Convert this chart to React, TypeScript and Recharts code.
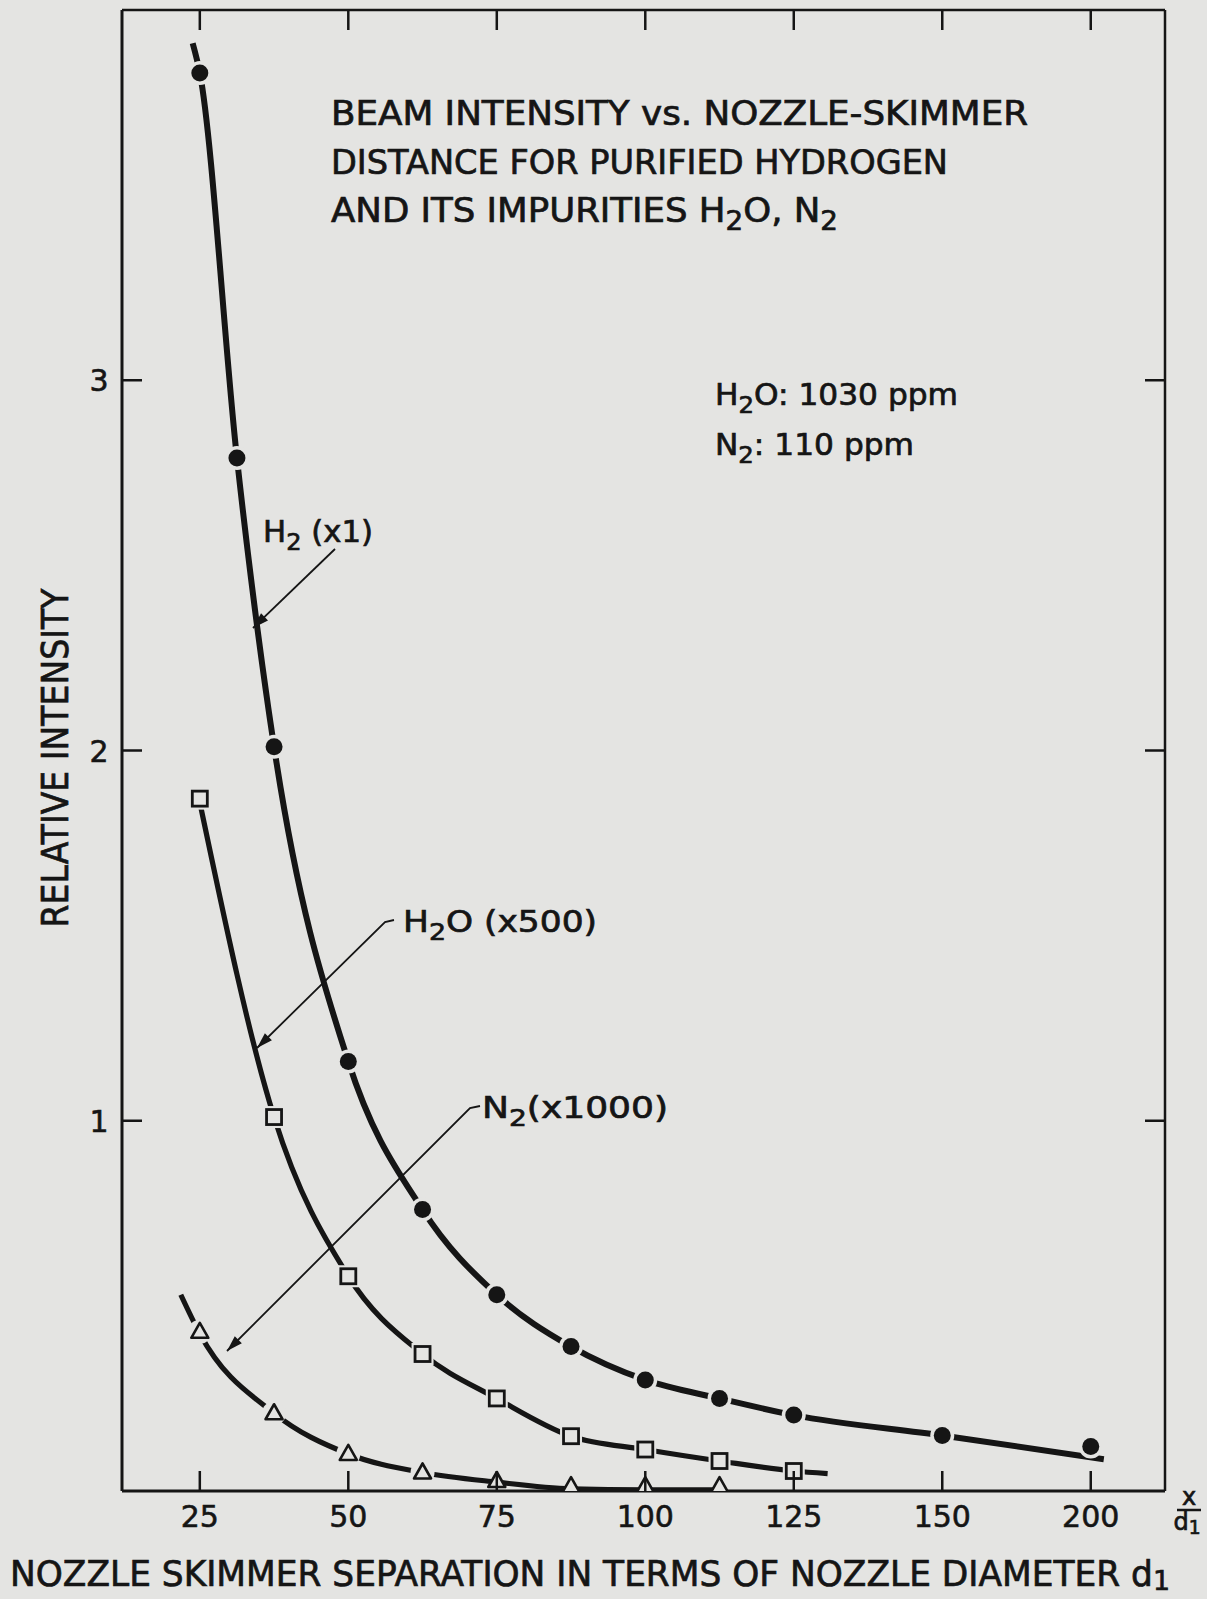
import React from "react";
import { LineChart, Line, XAxis, YAxis } from "recharts";

const BG = "#e4e4e2";
const INK = "#151515";
const FONT = "'DejaVu Sans', 'Liberation Sans', sans-serif";
const TICK = 20;

const h2X = [25, 31.25, 37.5, 50, 62.5, 75, 87.5, 100, 112.5, 125, 150, 200];
const h2Y = [3.83, 2.79, 2.01, 1.16, 0.76, 0.53, 0.39, 0.3, 0.25, 0.205, 0.15, 0.12];

const h2oX = [25, 37.5, 50, 62.5, 75, 87.5, 100, 112.5, 125];
const h2oY = [1.87, 1.01, 0.58, 0.37, 0.25, 0.148, 0.112, 0.081, 0.054];

const n2X = [25, 37.5, 50, 62.5, 75, 87.5, 100, 112.5];
const n2Y = [0.43, 0.21, 0.1, 0.05, 0.027, 0.013, 0.013, 0.013];

// the hand-drawn fitted curves, including where they run past the end points
const h2CurveX = [23.8, 25, 31.25, 37.5, 50, 62.5, 75, 87.5, 100, 112.5, 125, 150, 204.4];
const h2CurveY = [3.91, 3.83, 2.79, 2.01, 1.16, 0.76, 0.53, 0.39, 0.3, 0.25, 0.205, 0.15, 0.086];

const h2oCurveX = [25, 37.5, 50, 62.5, 75, 87.5, 100, 112.5, 125, 130.7];
const h2oCurveY = [1.86, 1.01, 0.58, 0.37, 0.25, 0.148, 0.112, 0.081, 0.054, 0.047];

const n2CurveX = [21.8, 25, 37.5, 50, 62.5, 75, 87.5, 100, 112.5];
const n2CurveY = [0.53, 0.425, 0.21, 0.1, 0.05, 0.024, 0.006, 0.003, 0.003];

const xTicks = [25, 50, 75, 100, 125, 150, 200];
const yTicks = [1, 2, 3];

// the x axis is broken after 150: 150..200 takes the room of one 25 step
const toPos = (x: number) => (x <= 150 ? x : 150 + (x - 150) / 2);
const fromPos = (p: number) => (p <= 150 ? p : 150 + (p - 150) * 2);

const rows = (xs: number[], ys: number[]) =>
  xs.map((x, i) => ({ x, pos: toPos(x), y: ys[i] }));

const h2Pts = rows(h2X, h2Y);
const h2oPts = rows(h2oX, h2oY);
const n2Pts = rows(n2X, n2Y);
const h2Curve = rows(h2CurveX, h2CurveY);
const h2oCurve = rows(h2oCurveX, h2oCurveY);
const n2Curve = rows(n2CurveX, n2CurveY);

const CircleMark = (p: any) => {
  const { cx, cy } = p;
  if (cx == null || cy == null) return null;
  return (
    <g>
      <circle cx={cx} cy={cy} r={12} fill={BG} />
      <circle cx={cx} cy={cy} r={8.5} fill={INK} />
    </g>
  );
};

const SquareMark = (p: any) => {
  const { cx, cy } = p;
  if (cx == null || cy == null) return null;
  return (
    <g>
      <rect x={cx - 11} y={cy - 11} width={22} height={22} fill={BG} />
      <rect x={cx - 7.5} y={cy - 7.5} width={15} height={15} fill={BG} stroke={INK} strokeWidth={2.8} />
    </g>
  );
};

const TriangleMark = (p: any) => {
  const { cx, cy, payload } = p;
  if (cx == null || cy == null) return null;
  const halo = payload && payload.y > 0.04;
  return (
    <g>
      {halo && <circle cx={cx} cy={cy} r={12} fill={BG} />}
      <polygon
        points={`${cx},${cy - 9} ${cx + 8.5},${cy + 6} ${cx - 8.5},${cy + 6}`}
        fill={BG}
        stroke={INK}
        strokeWidth={2.6}
        strokeLinejoin="round"
      />
    </g>
  );
};

const BottomTick = (props: any) => {
  const { x, y, payload } = props;
  return (
    <g>
      <line x1={x} x2={x} y1={y} y2={y - TICK} stroke={INK} strokeWidth={2.5} />
      <text x={x} y={y + 36} textAnchor="middle" fontSize={30} fill={INK} stroke={INK} strokeWidth={0.6} fontFamily={FONT}>
        {fromPos(payload.value)}
      </text>
    </g>
  );
};

const TopTick = (props: any) => {
  const { x, y } = props;
  return <line x1={x} x2={x} y1={y} y2={y + TICK} stroke={INK} strokeWidth={2.5} />;
};

const LeftTick = (props: any) => {
  const { x, y, payload } = props;
  return (
    <g>
      <line x1={x} x2={x + TICK} y1={y} y2={y} stroke={INK} strokeWidth={2.5} />
      <text x={x - 23} y={y + 11} textAnchor="middle" fontSize={30} fill={INK} stroke={INK} strokeWidth={0.6} fontFamily={FONT}>
        {payload.value}
      </text>
    </g>
  );
};

const RightTick = (props: any) => {
  const { x, y } = props;
  return <line x1={x} x2={x - TICK} y1={y} y2={y} stroke={INK} strokeWidth={2.5} />;
};

// leader line that ends in a filled arrow head
function Arrow({ pts }: { pts: number[][] }) {
  const [ax, ay] = pts[pts.length - 2];
  const [bx, by] = pts[pts.length - 1];
  const len = Math.hypot(bx - ax, by - ay);
  const ux = (bx - ax) / len;
  const uy = (by - ay) / len;
  const hl = 16;
  const hw = 5;
  const baseX = bx - ux * hl;
  const baseY = by - uy * hl;
  const head = `${bx},${by} ${baseX - uy * hw},${baseY + ux * hw} ${baseX + uy * hw},${baseY - ux * hw}`;
  return (
    <g>
      <polyline
        points={pts.map((q) => q.join(",")).join(" ")}
        fill="none"
        stroke={INK}
        strokeWidth={1.8}
      />
      <polygon points={head} fill={INK} />
    </g>
  );
}

// text with chemical subscripts: parts alternate normal / subscript
function Chem({ parts, drop = 8 }: { parts: string[]; drop?: number }) {
  let down = false;
  return (
    <>
      {parts.map((s, i) => {
        const sub = i % 2 === 1;
        let dy = 0;
        if (sub && !down) {
          dy = drop;
          down = true;
        } else if (!sub && down) {
          dy = -drop;
          down = false;
        }
        return (
          <tspan key={i} dy={dy || undefined} fontSize={sub ? "0.78em" : undefined}>
            {s}
          </tspan>
        );
      })}
    </>
  );
}

export default function App() {
  const txt = { fill: INK, stroke: INK, strokeWidth: 0.7 };
  return (
    <div style={{ position: "absolute", left: 0, top: 0, width: 1207, height: 1599, background: BG, overflow: "hidden" }}>
      <LineChart
        width={1207}
        height={1599}
        margin={{ top: 6, right: 32, bottom: 68, left: 62 }}
      >
        <XAxis
          xAxisId={0}
          type="number"
          dataKey="pos"
          domain={[11.9, 187.5]}
          allowDataOverflow
          ticks={xTicks.map(toPos)}
          interval={0}
          height={40}
          tickSize={0}
          tickMargin={0}
          tick={<BottomTick />}
          axisLine={{ stroke: INK, strokeWidth: 3 }}
          tickLine={false}
        />
        <XAxis
          xAxisId="top"
          orientation="top"
          type="number"
          dataKey="pos"
          domain={[11.9, 187.5]}
          allowDataOverflow
          ticks={xTicks.map(toPos)}
          interval={0}
          height={4}
          tickSize={0}
          tickMargin={0}
          tick={<TopTick />}
          axisLine={{ stroke: INK, strokeWidth: 2.5 }}
          tickLine={false}
        />
        <YAxis
          yAxisId={0}
          type="number"
          domain={[0, 4]}
          allowDataOverflow
          ticks={yTicks}
          interval={0}
          width={60}
          tickSize={0}
          tickMargin={0}
          tick={<LeftTick />}
          axisLine={{ stroke: INK, strokeWidth: 3 }}
          tickLine={false}
        />
        <YAxis
          yAxisId="right"
          orientation="right"
          type="number"
          domain={[0, 4]}
          allowDataOverflow
          ticks={yTicks}
          interval={0}
          width={10}
          tickSize={0}
          tickMargin={0}
          tick={<RightTick />}
          axisLine={{ stroke: INK, strokeWidth: 2.5 }}
          tickLine={false}
        />

        {/* fitted curves */}
        <Line data={h2Curve} dataKey="y" type="monotone" stroke={INK} strokeWidth={6} dot={false} activeDot={false} isAnimationActive={false} />
        <Line data={h2oCurve} dataKey="y" type="monotone" stroke={INK} strokeWidth={5.2} dot={false} activeDot={false} isAnimationActive={false} />
        <Line data={n2Curve} dataKey="y" type="monotone" stroke={INK} strokeWidth={5.2} dot={false} activeDot={false} isAnimationActive={false} />

        {/* measured points */}
        <Line data={h2Pts} dataKey="y" stroke="none" dot={(p: any) => <CircleMark key={`h2-${p.index}`} {...p} />} activeDot={false} isAnimationActive={false} />
        <Line data={h2oPts} dataKey="y" stroke="none" dot={(p: any) => <SquareMark key={`h2o-${p.index}`} {...p} />} activeDot={false} isAnimationActive={false} />
        <Line data={n2Pts} dataKey="y" stroke="none" dot={(p: any) => <TriangleMark key={`n2-${p.index}`} {...p} />} activeDot={false} isAnimationActive={false} />
      </LineChart>

      <svg
        width={1207}
        height={1599}
        style={{ position: "absolute", left: 0, top: 0, pointerEvents: "none" }}
        fontFamily={FONT}
      >
        {/* title */}
        <text x={331} y={125} fontSize={33} textLength={697} lengthAdjust="spacingAndGlyphs" {...txt}>
          BEAM INTENSITY vs. NOZZLE-SKIMMER
        </text>
        <text x={331} y={174} fontSize={33} textLength={617} lengthAdjust="spacingAndGlyphs" {...txt}>
          DISTANCE FOR PURIFIED HYDROGEN
        </text>
        <text x={331} y={222} fontSize={33} textLength={507} lengthAdjust="spacingAndGlyphs" {...txt}>
          <Chem parts={["AND ITS IMPURITIES H", "2", "O, N", "2"]} />
        </text>

        {/* impurity levels */}
        <text x={715} y={405} fontSize={30} textLength={243} lengthAdjust="spacingAndGlyphs" {...txt}>
          <Chem parts={["H", "2", "O: 1030 ppm"]} />
        </text>
        <text x={715} y={455} fontSize={30} textLength={199} lengthAdjust="spacingAndGlyphs" {...txt}>
          <Chem parts={["N", "2", ": 110 ppm"]} />
        </text>

        {/* curve labels */}
        <text x={263} y={542} fontSize={30} textLength={110} lengthAdjust="spacingAndGlyphs" {...txt}>
          <Chem parts={["H", "2", " (x1)"]} />
        </text>
        <Arrow pts={[[335, 549], [253, 628]]} />

        <text x={403} y={932} fontSize={30} textLength={194} lengthAdjust="spacingAndGlyphs" {...txt}>
          <Chem parts={["H", "2", "O (x500)"]} />
        </text>
        <Arrow pts={[[394, 920], [385, 922], [257, 1048]]} />

        <text x={482} y={1118} fontSize={30} textLength={186} lengthAdjust="spacingAndGlyphs" {...txt}>
          <Chem parts={["N", "2", "(x1000)"]} />
        </text>
        <Arrow pts={[[480, 1106], [470, 1108], [227, 1351]]} />

        {/* axis titles */}
        <text
          x={0}
          y={0}
          fontSize={37}
          textAnchor="middle"
          textLength={339}
          lengthAdjust="spacingAndGlyphs"
          transform="translate(68 758) rotate(-90)"
          {...txt}
        >
          RELATIVE INTENSITY
        </text>
        <text x={10} y={1586} fontSize={35} textLength={1160} lengthAdjust="spacingAndGlyphs" {...txt}>
          <Chem parts={["NOZZLE SKIMMER SEPARATION IN TERMS OF NOZZLE DIAMETER d", "1"]} drop={4} />
        </text>

        {/* x / d1 unit */}
        <text x={1189} y={1505} fontSize={24} textAnchor="middle" {...txt}>x</text>
        <line x1={1177} x2={1201} y1={1510} y2={1510} stroke={INK} strokeWidth={2.5} />
        <text x={1187} y={1530} fontSize={24} textAnchor="middle" {...txt}>
          <Chem parts={["d", "1"]} drop={4} />
        </text>
      </svg>
    </div>
  );
}
